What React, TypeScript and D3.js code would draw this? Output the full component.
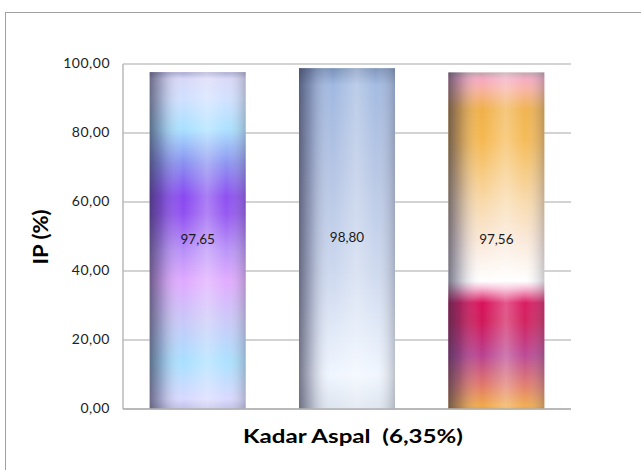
import React from "react";
import * as d3 from "d3";

const categories = ["Campuran 1", "Campuran 2", "Campuran 3"];
const values = [97.65, 98.8, 97.56];
const valueLabels = ["97,65", "98,80", "97,56"];
const yTicks = [0, 20, 40, 60, 80, 100];
const yTickLabels = ["0,00", "20,00", "40,00", "60,00", "80,00", "100,00"];
const xTitle = "Kadar Aspal  (6,35%)";
const yTitle = "IP (%)";

const barStops: [number, string][][] = [
  [
    [0, "#a8a8d0"],
    [0.02, "#d8d8f8"],
    [0.08, "#d0e0ff"],
    [0.17, "#a8e0ff"],
    [0.27, "#8890f0"],
    [0.37, "#8848f0"],
    [0.42, "#9050f0"],
    [0.53, "#b890f8"],
    [0.62, "#e0a8ff"],
    [0.74, "#c8c8f8"],
    [0.86, "#a8e0ff"],
    [0.97, "#d8d8ff"],
    [1, "#c0c0e8"],
  ],
  [
    [0, "#7890b8"],
    [0.05, "#a0b8e0"],
    [0.3, "#b4c4e4"],
    [0.6, "#ccd8ee"],
    [0.9, "#f0f6ff"],
    [1, "#dce4ee"],
  ],
  [
    [0, "#c0a0a8"],
    [0.02, "#f5a8c0"],
    [0.05, "#f8b0a0"],
    [0.11, "#f0b048"],
    [0.2, "#f5b850"],
    [0.38, "#f8d8a8"],
    [0.5, "#fae8d8"],
    [0.62, "#ffffff"],
    [0.64, "#f8c0d8"],
    [0.685, "#d8105a"],
    [0.74, "#d01858"],
    [0.84, "#b84090"],
    [0.93, "#e07868"],
    [0.99, "#f0a848"],
    [1, "#e8a040"],
  ],
];

const W = 641;
const H = 470;
const plotLeft = 123;
const plotRight = 571;
const plotTop = 64;
const plotBottom = 409;

export default function App() {
  const x = d3
    .scaleBand<string>()
    .domain(categories)
    .range([plotLeft, plotRight])
    .paddingInner(0.357)
    .paddingOuter(0.1785);
  const y = d3.scaleLinear().domain([0, 100]).range([plotBottom, plotTop]);
  const font = "Lato, 'Open Sans', sans-serif";

  return (
    <svg
      width={W}
      height={H}
      style={{ position: "absolute", left: 0, top: 0, background: "#fff" }}
    >
      <defs>
        {barStops.map((stops, i) => (
          <linearGradient key={i} id={`vg${i}`} x1="0" y1="0" x2="0" y2="1">
            {stops.map(([o, c], j) => (
              <stop key={j} offset={o} stopColor={c} />
            ))}
          </linearGradient>
        ))}
        <linearGradient id="hshade" x1="0" y1="0" x2="1" y2="0">
          <stop offset={0} stopColor="#303048" stopOpacity={0.65} />
          <stop offset={0.12} stopColor="#404060" stopOpacity={0.35} />
          <stop offset={0.35} stopColor="#ffffff" stopOpacity={0} />
          <stop offset={0.6} stopColor="#ffffff" stopOpacity={0.3} />
          <stop offset={0.8} stopColor="#ffffff" stopOpacity={0.05} />
          <stop offset={1} stopColor="#606070" stopOpacity={0.35} />
        </linearGradient>
      </defs>
      <rect x={5.5} y={12.5} width={700} height={500} fill="#fff" stroke="#a0a0a0" strokeWidth={1} />

      {yTicks.map((t) => (
        <line
          key={t}
          x1={plotLeft}
          x2={plotRight}
          y1={y(t)}
          y2={y(t)}
          stroke="#c4c4c4"
          strokeWidth={1.5}
        />
      ))}
      <line x1={plotLeft} x2={plotLeft} y1={plotTop} y2={plotBottom} stroke="#b8b8b8" strokeWidth={1.5} />

      {categories.map((c, i) => {
        const bx = x(c)!;
        const by = y(values[i]);
        const bh = y(0) - by;
        return (
          <g key={c}>
            <rect x={bx} y={by} width={x.bandwidth()} height={bh} fill={`url(#vg${i})`} />
            <rect x={bx} y={by} width={x.bandwidth()} height={bh} fill="url(#hshade)" />
            <text
              x={bx + x.bandwidth() / 2}
              y={y(values[i] / 2)}
              textAnchor="middle"
              dominantBaseline="middle"
              fontFamily={font}
              fontSize={13.5}
              fill="#1a1a1a"
            >
              {valueLabels[i]}
            </text>
          </g>
        );
      })}
      <line x1={plotLeft} x2={plotRight} y1={plotBottom} y2={plotBottom} stroke="#b0b0b0" strokeWidth={1.5} />

      {yTicks.map((t, i) => (
        <text
          key={t}
          x={110}
          y={y(t)}
          textAnchor="end"
          dominantBaseline="middle"
          fontFamily={font}
          fontSize={14}
          letterSpacing={0.5}
          fill="#222"
        >
          {yTickLabels[i]}
        </text>
      ))}

      <text
        transform={`translate(48,${237}) rotate(-90)`}
        textAnchor="middle"
        fontFamily={font}
        fontWeight="bold"
        fontSize={20}
        textLength={55}
        lengthAdjust="spacingAndGlyphs"
        fill="#000"
      >
        {yTitle}
      </text>
      <text
        x={353}
        y={443}
        textAnchor="middle"
        fontFamily={font}
        fontWeight="bold"
        fontSize={19.5}
        textLength={220}
        lengthAdjust="spacingAndGlyphs"
        fill="#000"
        style={{ whiteSpace: "pre" }}
      >
        {xTitle}
      </text>
    </svg>
  );
}
